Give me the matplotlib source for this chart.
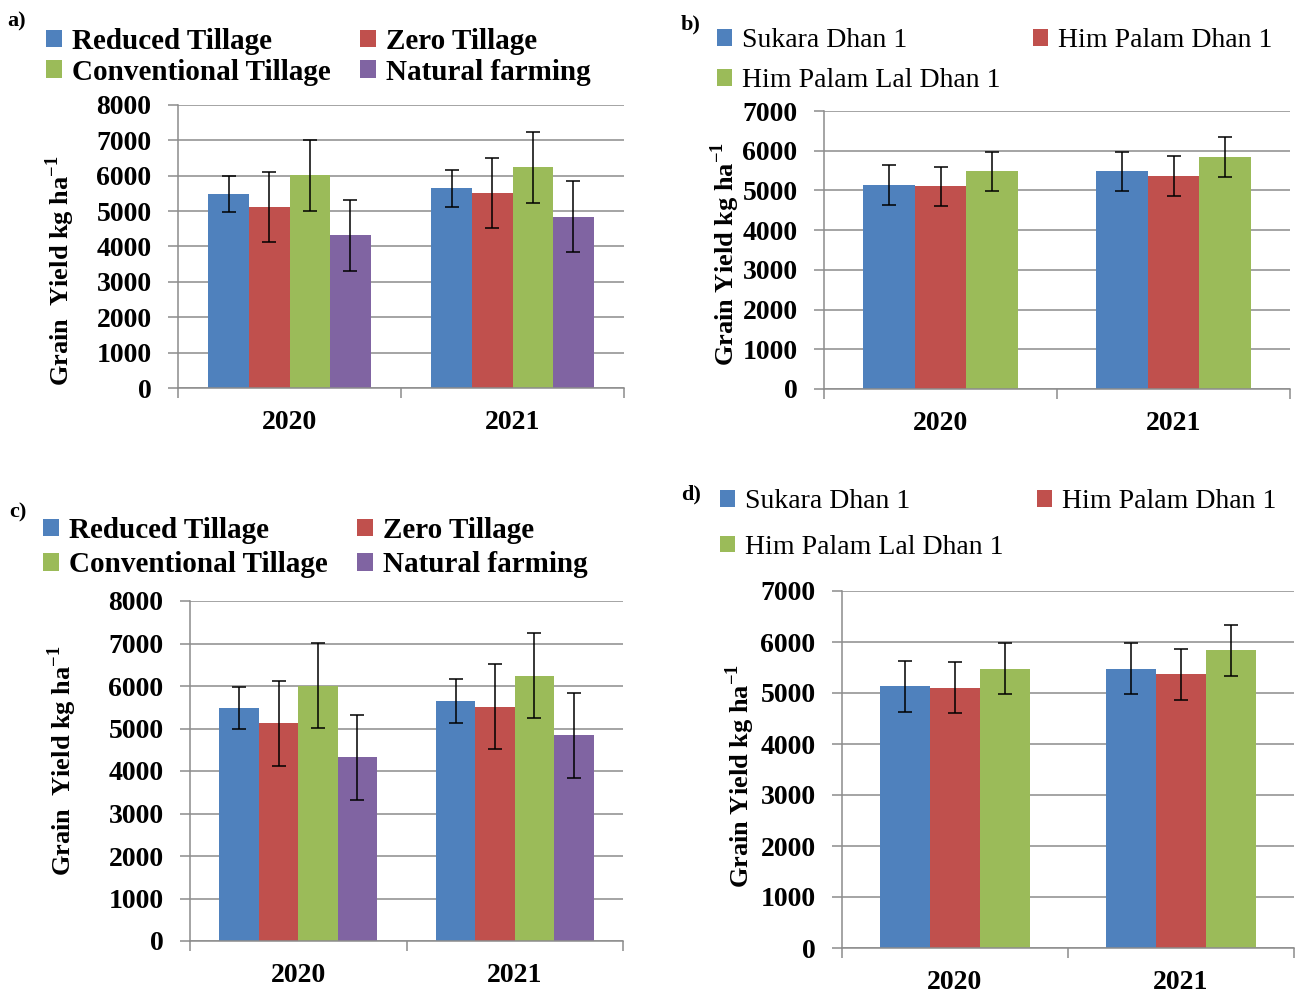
import numpy as np
import matplotlib
matplotlib.use("Agg")
import matplotlib.pyplot as plt
from matplotlib.patches import Patch

plt.rcParams['font.family'] = ['Liberation Serif', 'DejaVu Serif']
plt.rcParams['mathtext.fontset'] = 'custom'
plt.rcParams['mathtext.rm'] = 'Liberation Serif'
plt.rcParams['mathtext.bf'] = 'Liberation Serif:bold'

YEARS = ['2020', '2021']

# tillage treatments (panels a and c)
TILLAGE = ['Reduced Tillage', 'Zero Tillage', 'Conventional Tillage', 'Natural farming']
TILL_MEAN = [[5480, 5650],   # reduced
             [5120, 5510],   # zero
             [6010, 6240],   # conventional
             [4320, 4840]]   # natural farming
TILL_ERR = [[500, 520],
            [1000, 1000],
            [1000, 1000],
            [1000, 1000]]

# rice varieties (panels b and d)
VARIETY = ['Sukara Dhan 1', 'Him Palam Dhan 1', 'Him Palam Lal Dhan 1']
VAR_MEAN = [[5130, 5480],
            [5100, 5370],
            [5480, 5840]]
VAR_ERR = [[500, 500],
           [500, 500],
           [500, 500]]

COLORS = ['#4F81BD', '#C0504D', '#9BBB59', '#8064A2']
GRID = '#8C8C8C'

W, H = 1296, 993
fig = plt.figure(figsize=(W / 100, H / 100), dpi=100)


def px_axes(x0, y0, x1, y1):
    return fig.add_axes([x0 / W, 1 - y1 / H, (x1 - x0) / W, (y1 - y0) / H])


def bar_panel(ax, means, errs, ymax, bar_w, tick_size):
    n = len(means)
    x = np.arange(len(YEARS))
    for i in range(n):
        off = (i - (n - 1) / 2) * bar_w
        ax.bar(x + off, means[i], bar_w, color=COLORS[i], zorder=2)
        ax.errorbar(x + off, means[i], yerr=errs[i], fmt='none', ecolor='black',
                    elinewidth=1.1, capsize=5, capthick=1.1, zorder=3)
    ax.set_xlim(-0.5, 1.5)
    ax.set_ylim(0, ymax)
    ax.set_yticks(np.arange(0, ymax + 1, 1000))
    ax.yaxis.grid(True, color=GRID, linewidth=1.1, zorder=0)
    ax.set_axisbelow(True)
    ax.set_xticks(x)
    ax.set_xticklabels(YEARS)
    ax.set_xticks([-0.5, 0.5, 1.5], minor=True)
    ax.tick_params(axis='x', which='major', length=0, pad=16, labelsize=tick_size)
    ax.tick_params(axis='x', which='minor', length=7, color=GRID, width=1.1)
    ax.tick_params(axis='y', length=7, color=GRID, width=1.1, pad=12, labelsize=tick_size)
    for lab in ax.get_xticklabels() + ax.get_yticklabels():
        lab.set_fontweight('bold')
    for s in ['top', 'right']:
        ax.spines[s].set_visible(False)
    for s in ['left', 'bottom']:
        ax.spines[s].set_color(GRID)
        ax.spines[s].set_linewidth(1.1)


def legend_column(names, cols, x, y, size, bold, spacing):
    handles = [Patch(facecolor=c, edgecolor='none') for c in cols]
    leg = fig.legend(handles, names, loc='upper left', bbox_to_anchor=(x / W, 1 - y / H),
                     frameon=False, borderpad=0, borderaxespad=0, handlelength=0.55,
                     handleheight=0.55, handletextpad=0.35, labelspacing=spacing,
                     prop={'size': size, 'weight': 'bold' if bold else 'normal'})
    return leg


def y_title(text, x, y):
    fig.text(x / W, 1 - y / H, text, rotation=90, ha='center', va='center',
             fontsize=19, fontweight='bold')


ylab_t = r'Grain  Yield kg ha$^{\mathbf{-1}}$'
ylab_v = r'Grain Yield kg ha$^{\mathbf{-1}}$'

# a) tillage
ax_a = px_axes(178, 105, 624, 388)
bar_panel(ax_a, TILL_MEAN, TILL_ERR, 8000, 0.182, 20)
y_title(ylab_t, 60, 271)
legend_column([TILLAGE[0], TILLAGE[2]], [COLORS[0], COLORS[2]], 46, 28, 21, True, 0.12)
legend_column([TILLAGE[1], TILLAGE[3]], [COLORS[1], COLORS[3]], 360, 28, 21, True, 0.12)

# b) varieties
ax_b = px_axes(824, 111, 1290, 389)
bar_panel(ax_b, VAR_MEAN, VAR_ERR, 7000, 0.221, 20)
y_title(ylab_v, 725, 254)
legend_column([VARIETY[0], VARIETY[2]], [COLORS[0], COLORS[2]], 717, 28, 20, False, 0.55)
legend_column([VARIETY[1]], [COLORS[1]], 1033, 28, 20, False, 0.55)

# c) tillage
ax_c = px_axes(190, 601, 623, 941)
bar_panel(ax_c, TILL_MEAN, TILL_ERR, 8000, 0.182, 20)
y_title(ylab_t, 62, 761)
legend_column([TILLAGE[0], TILLAGE[2]], [COLORS[0], COLORS[2]], 43, 517, 21, True, 0.25)
legend_column([TILLAGE[1], TILLAGE[3]], [COLORS[1], COLORS[3]], 357, 517, 21, True, 0.25)

# d) varieties
ax_d = px_axes(842, 591, 1294, 948)
bar_panel(ax_d, VAR_MEAN, VAR_ERR, 7000, 0.221, 20)
y_title(ylab_v, 740, 776)
legend_column([VARIETY[0], VARIETY[2]], [COLORS[0], COLORS[2]], 720, 489, 20, False, 0.75)
legend_column([VARIETY[1]], [COLORS[1]], 1037, 489, 20, False, 0.75)

for lab, (px, py) in zip(['a)', 'b)', 'c)', 'd)'], [(7, 21), (681, 24), (9, 512), (681, 494)]):
    fig.text(px / W, 1 - py / H, lab, fontsize=16, fontweight='bold', va='center')

fig.savefig('out.png', dpi=100, facecolor='white')
